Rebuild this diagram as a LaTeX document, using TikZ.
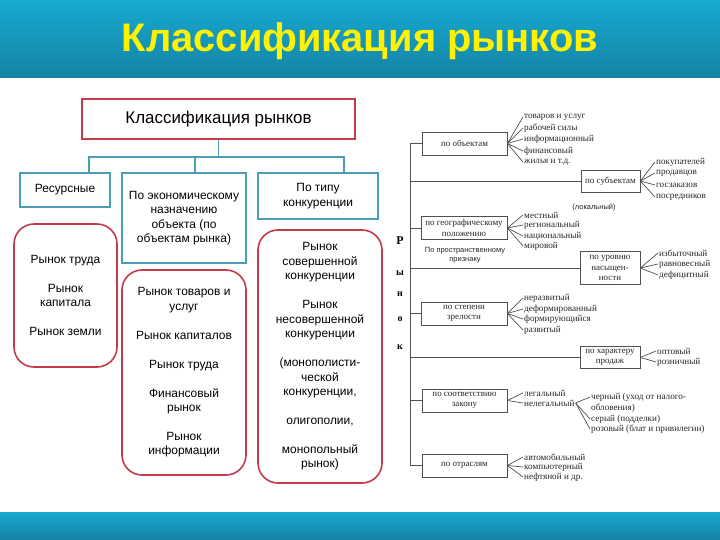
\documentclass[tikz,border=0pt]{standalone}
\usepackage{fontspec}
\setmainfont{Liberation Sans}
\newfontfamily\scanfont{Liberation Serif}
\definecolor{barTop}{HTML}{17AAD0}
\definecolor{barBot}{HTML}{1483A4}
\definecolor{boxRed}{HTML}{C23A4C}
\definecolor{boxTeal}{HTML}{4A9FB5}
\definecolor{scanGray}{HTML}{505050}
\tikzset{
  catbox/.style={draw=boxTeal,line width=1.6bp,align=center,font=\fontsize{12}{14.5}\selectfont,inner sep=2bp},
  listbox/.style={draw=boxRed,line width=1.6bp,rounded corners=20bp,align=center,font=\fontsize{12}{14.5}\selectfont},
  sbox/.style={draw=scanGray,line width=0.7bp,align=center,font=\scanfont\fontsize{9}{10.3}\selectfont,inner sep=0.5bp,text=black!85},
  item/.style={anchor=west,font=\scanfont\fontsize{9.2}{11}\selectfont,inner sep=1bp,align=left,text=black!85},
  note/.style={font=\fontsize{7.5}{9}\selectfont,align=center,text=black!85},
  link/.style={draw=boxTeal,line width=1.6bp},
  sline/.style={draw=scanGray,line width=0.7bp},
}
\begin{document}
\begin{tikzpicture}[x=1bp,y=-1bp]
 \useasboundingbox (0,0) rectangle (720,540);
 \shade[top color=barTop,bottom color=barBot] (0,0) rectangle (720,78);
 \shade[top color=barTop,bottom color=barBot] (0,512) rectangle (720,540);
 \node[font=\bfseries\fontsize{40}{48}\selectfont,text=yellow,anchor=base] (title) at (360,52) {Классификация рынков};

 \node[draw=boxRed,line width=1.6bp,minimum width=273bp,minimum height=40bp,font=\fontsize{17}{20}\selectfont] (root) at (218.5,119) {Классификация рынков};
 \node[catbox,minimum width=90bp,minimum height=34bp] (res) at (65,190) {Ресурсные};
 \node[catbox,minimum width=124bp,minimum height=90bp] (econ) at (184,218)
   {По экономическому\\назначению\\объекта (по\\объектам рынка)};
 \node[catbox,minimum width=120bp,minimum height=46bp] (comp) at (318,196)
   {По типу\\конкуренции};
 \coordinate (fork) at (218.5,157);
 \draw[link] (root.south) -- (fork);
 \draw[link] ([xshift=-22bp]res.north east) |- (fork) -| ([xshift=-35bp]comp.north east);
 \draw[link] ([xshift=11bp]econ.north) |- (fork);

 \node[listbox,minimum width=103bp,minimum height=143bp] (resList) at (65.5,295.5)
   {Рынок труда\\[14.5bp]Рынок\\капитала\\[14.5bp]Рынок земли};
 \node[listbox,minimum width=124bp,minimum height=205bp] (econList) at (184,372.5)
   {Рынок товаров и\\услуг\\[14.5bp]Рынок капиталов\\[14.5bp]Рынок труда\\[14.5bp]Финансовый\\рынок\\[14.5bp]Рынок\\информации};
 \node[listbox,minimum width=124bp,minimum height=253bp] (compList) at (320,356.5)
   {Рынок\\совершенной\\конкуренции\\[14.5bp]Рынок\\несовершенной\\конкуренции\\[14.5bp](монополисти-\\ческой\\конкуренции,\\[14.5bp]олигополии,\\[14.5bp]монопольный\\рынок)};

 \node[sbox,minimum width=85bp,minimum height=23bp] (obj) at (464.5,143.5) {по объектам};
 \node[sbox,minimum width=59bp,minimum height=22bp] (subj) at (610.5,181) {по субъектам};
 \node[sbox,minimum width=86bp,minimum height=23bp] (geo) at (464,228) {по географическому\\положению};
 \node[sbox,minimum width=60bp,minimum height=33bp] (sat) at (610,268) {по уровню\\насыщен-\\ности};
 \node[sbox,minimum width=86bp,minimum height=23bp] (mat) at (464,313.5) {по степени\\зрелости};
 \node[sbox,minimum width=60bp,minimum height=22bp] (sales) at (610,357.5) {по характеру\\продаж};
 \node[sbox,minimum width=85bp,minimum height=23bp] (law) at (464.5,400.5) {по соответствию\\закону};
 \node[sbox,minimum width=85bp,minimum height=23bp] (otr) at (464.5,465.5) {по отраслям};

 \coordinate (sp) at (410,0);
 \draw[sline] (obj.west) -- (obj.west -| sp) |- (otr.west);
 \foreach \b in {subj,geo,sat,mat,sales,law}
   \draw[sline] (\b.west) -- (\b.west -| sp);
 \node[font=\scanfont\bfseries\fontsize{12}{12}\selectfont] (let1) at (400,241) {Р};
 \foreach \l/\yy [count=\i from 2] in {ы/273,н/294,о/319,к/347}
   \node[font=\scanfont\bfseries\fontsize{10}{10}\selectfont] (let\i) at (400,\yy) {\l};

 \foreach \t/\yy [count=\i] in {товаров и услуг/117,рабочей силы/128,информационный/139,финансовый/151,жилья и т.д./162}
   \node[item] (o\i) at (523,\yy) {\t};
 \foreach \i in {1,...,5} \draw[sline] (obj.east) -- (o\i.west);

 \foreach \t/\yy [count=\i] in {покупателей/162,продавцов/173,госзаказов/185,посредников/197}
   \node[item] (s\i) at (655,\yy) {\t};
 \foreach \i in {1,...,4} \draw[sline] (subj.east) -- (s\i.west);

 \foreach \t/\yy [count=\i] in {местный/215,региональный/225,национальный/236,мировой/246}
   \node[item] (g\i) at (523,\yy) {\t};
 \foreach \i in {1,...,4} \draw[sline] (geo.east) -- (g\i.west);

 \foreach \t/\yy [count=\i] in {избыточный/253,равновесный/264,дефицитный/275}
   \node[item] (u\i) at (658,\yy) {\t};
 \foreach \i in {1,...,3} \draw[sline] (sat.east) -- (u\i.west);

 \foreach \t/\yy [count=\i] in {неразвитый/298,деформированный/309,формирующийся/319,развитый/330}
   \node[item] (m\i) at (523,\yy) {\t};
 \foreach \i in {1,...,4} \draw[sline] (mat.east) -- (m\i.west);

 \foreach \t/\yy [count=\i] in {оптовый/351,розничный/362}
   \node[item] (h\i) at (656,\yy) {\t};
 \foreach \i in {1,...,2} \draw[sline] (sales.east) -- (h\i.west);

 \node[item] (legal) at (523,393) {легальный};
 \node[item] (illegal) at (523,403) {нелегальный};
 \draw[sline] (law.east) -- (legal.west);
 \draw[sline] (law.east) -- (illegal.west);
 \node[item] (black) at (590,397) {черный (уход от налого-};
 \node[item] (blackEnd) at (590,408) {обловения)};
 \node[item] (grey) at (590,419) {серый (подделки)};
 \node[item] (pink) at (590,429) {розовый (блат и привилегии)};
 \foreach \c in {black,grey,pink} \draw[sline] (illegal.east) -- (\c.west);

 \foreach \t/\yy [count=\i] in {автомобильный/457,компьютерный/467,нефтяной и др./477}
   \node[item] (r\i) at (523,\yy) {\t};
 \foreach \i in {1,...,3} \draw[sline] (otr.east) -- (r\i.west);

 \node[note] (local) at (594,208) {(локальный)};
 \node[note] (space) at (465,255) {По пространственному\\признаку};
\end{tikzpicture}
\end{document}
